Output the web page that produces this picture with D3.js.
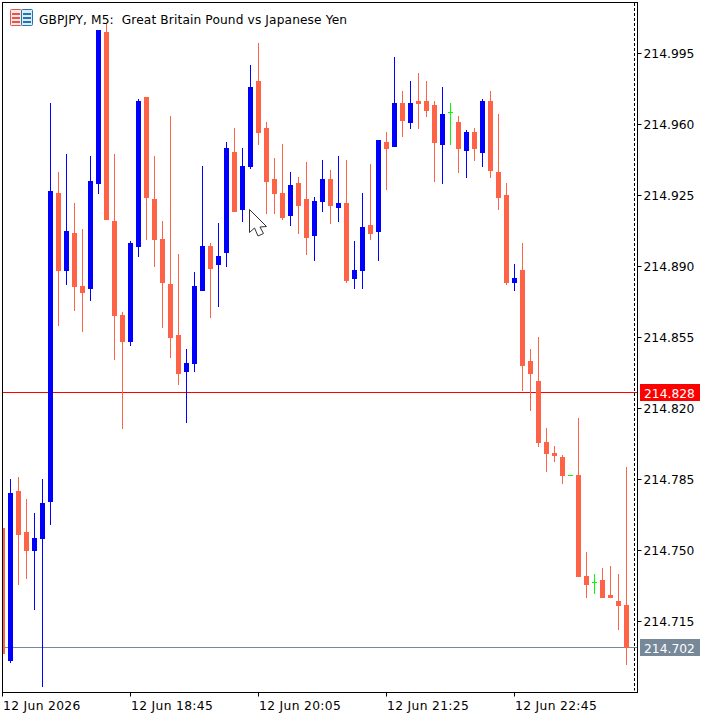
<!DOCTYPE html>
<html>
<head>
<meta charset="utf-8">
<script src="https://cdn.jsdelivr.net/npm/d3@7/dist/d3.min.js"></script>
<style>
  html, body { margin: 0; padding: 0; background: #fff; }
  svg { display: block; }
  text { font-family: "DejaVu Sans", sans-serif; fill: #000; }
</style>
</head>
<body>
<svg id="chart" width="715" height="719"></svg>
<script>
// GBPJPY M5 bars, oldest first
const opens = [
  214.7613,214.6957,214.7795,214.7593,214.7500,214.7559,214.7741,214.9265,214.8880,214.9067,
  214.8806,214.8791,214.9309,215.0058,214.9126,214.8663,214.8530,214.8998,214.9738,214.9235,
  214.9038,214.8816,214.8564,214.8382,214.8421,214.8781,214.9003,214.8910,214.8969,214.9466,
  214.9181,214.9393,214.9817,214.9585,214.9334,214.9265,214.9151,214.9314,214.9235,214.9053,
  214.9220,214.9334,214.9191,214.9215,214.8841,214.8880,214.9107,214.9072,214.9516,214.9491,
  214.9708,214.9610,214.9718,214.9718,214.9698,214.9501,214.9664,214.9615,214.9471,214.9565,
  214.9461,214.9718,214.9368,214.9255,214.8821,214.8885,214.8436,214.8338,214.8037,214.7983,
  214.7963,214.7874,214.7874,214.7376,214.7347,214.7357,214.7283,214.7253,214.7233
];
const highs = [
  214.7613,214.7854,214.7864,214.7756,214.7687,214.7854,214.9708,214.9368,214.9457,214.9215,
  214.9087,214.9447,215.0068,215.0103,214.9457,214.8678,214.9028,214.9728,214.9738,214.9447,
  214.9126,214.9644,214.8964,214.8495,214.8875,214.9398,214.9018,214.9117,214.9516,214.9585,
  214.9486,214.9896,215.0004,214.9615,214.9437,214.9506,214.9368,214.9344,214.9417,214.9245,
  214.9427,214.9378,214.9447,214.9427,214.9028,214.9265,214.9407,214.9526,214.9565,214.9935,
  214.9767,214.9817,214.9856,214.9817,214.9718,214.9787,214.9708,214.9644,214.9575,214.9585,
  214.9728,214.9767,214.9654,214.9314,214.8915,214.9018,214.8495,214.8555,214.8106,214.8017,
  214.7973,214.7874,214.8155,214.7495,214.7386,214.7416,214.7426,214.7386,214.7913
];
const lows = [
  214.6992,214.6947,214.7332,214.7362,214.7209,214.6829,214.7628,214.8609,214.8811,214.8683,
  214.8579,214.8732,214.9260,214.9131,214.8441,214.8101,214.8510,214.8949,214.9033,214.8900,
  214.8599,214.8451,214.8318,214.8131,214.8382,214.8781,214.8648,214.8702,214.8900,214.9171,
  214.9121,214.9383,214.9501,214.9161,214.9161,214.9131,214.9102,214.9062,214.8959,214.8929,
  214.9171,214.9112,214.9121,214.8821,214.8791,214.8791,214.9033,214.8929,214.9279,214.9491,
  214.9541,214.9580,214.9580,214.9639,214.9319,214.9309,214.9501,214.9363,214.9339,214.9422,
  214.9393,214.9339,214.9181,214.8811,214.8781,214.8288,214.8190,214.8012,214.7889,214.7938,
  214.7830,214.7874,214.7371,214.7268,214.7288,214.7268,214.7268,214.7110,214.6937
];
const closes = [
  214.6992,214.7786,214.7578,214.7500,214.7564,214.7736,214.9274,214.8880,214.9077,214.8801,
  214.8772,214.9324,215.0068,214.9131,214.8658,214.8530,214.9018,214.9718,214.9240,214.9033,
  214.8821,214.8550,214.8372,214.8426,214.8806,214.9003,214.8890,214.8954,214.9486,214.9171,
  214.9398,214.9787,214.9560,214.9319,214.9260,214.9141,214.9304,214.9200,214.9043,214.9225,
  214.9334,214.9200,214.9215,214.8831,214.8885,214.9097,214.9062,214.9526,214.9481,214.9708,
  214.9619,214.9708,214.9703,214.9669,214.9511,214.9654,214.9664,214.9481,214.9565,214.9481,
  214.9718,214.9373,214.9240,214.8821,214.8846,214.8412,214.8372,214.8032,214.7978,214.7968,
  214.7869,214.7874,214.7371,214.7332,214.7347,214.7268,214.7268,214.7228,214.702
];

const priceTicks = [214.995, 214.960, 214.925, 214.890, 214.855, 214.820, 214.785, 214.750, 214.715];
const timeTicks = [0, 16, 32, 48, 64];
const timeLabels = ["12 Jun 2026", "12 Jun 18:45", "12 Jun 20:05", "12 Jun 21:25", "12 Jun 22:45"];
const bidPrice = 214.702;
const markerPrice = 214.828;
const chartTitle = "GBPJPY, M5:  Great Britain Pound vs Japanese Yen";

const UP = "#0000ff", DOWN = "#ff6347", DOJI = "#00ff00";
const BID = "#778899", MARKER = "#ff0000";

const frame = { left: 2.5, top: 2.5, right: 637.5, bottom: 692.5, shift: 634.5 };

const svg = d3.select("#chart");

const x = d3.scaleLinear().domain([0, 78]).range([2.5, 626.5]);
const y = d3.scaleLinear().domain([214.995, 214.715]).range([54, 622]);
const py = v => Math.round(y(v));

svg.append("defs").append("clipPath").attr("id", "plot")
  .append("rect")
  .attr("x", frame.left).attr("y", frame.top)
  .attr("width", frame.right - frame.left).attr("height", frame.bottom - frame.top);

// Horizontal price levels sit underneath the candles
const levelRow = v => Math.floor(y(v) - 0.5) + 0.5;
const levels = svg.append("g");
[[markerPrice, MARKER], [bidPrice, BID]].forEach(([v, c]) => {
  levels.append("line")
    .attr("x1", frame.left).attr("x2", frame.right)
    .attr("y1", levelRow(v)).attr("y2", levelRow(v))
    .attr("stroke", c);
});

// Candles
const bars = d3.range(opens.length).map(i => ({
  i, o: opens[i], h: highs[i], l: lows[i], c: closes[i]
}));
const colour = d => d.c > d.o ? UP : d.c < d.o ? DOWN : DOJI;

const candle = svg.append("g").attr("clip-path", "url(#plot)")
  .selectAll("g").data(bars).join("g").attr("fill", colour);

candle.append("rect")
  .attr("x", d => x(d.i) - 0.5)
  .attr("width", 1)
  .attr("y", d => py(d.h))
  .attr("height", d => py(d.l) - py(d.h));

candle.append("rect")
  .attr("x", d => x(d.i) - 2.5)
  .attr("width", 5)
  .attr("y", d => py(Math.max(d.o, d.c)))
  .attr("height", d => Math.max(1, py(Math.min(d.o, d.c)) - py(Math.max(d.o, d.c))));

// Dashed chart-shift marker
svg.append("line")
  .attr("x1", frame.shift).attr("x2", frame.shift)
  .attr("y1", frame.top + 0.5).attr("y2", frame.bottom - 2)
  .attr("stroke", "#000").attr("stroke-dasharray", "3,2");

// Chart frame
svg.append("rect")
  .attr("x", frame.left).attr("y", frame.top)
  .attr("width", frame.right - frame.left).attr("height", frame.bottom - frame.top)
  .attr("fill", "none").attr("stroke", "#000");

// Price axis
const priceAxis = d3.axisRight(y)
  .tickValues(priceTicks)
  .tickFormat(d3.format(".3f"))
  .tickSize(4)
  .tickPadding(2)
  .offset(-0.5);
svg.append("g")
  .attr("transform", `translate(${frame.right},0)`)
  .call(priceAxis)
  .call(g => g.select(".domain").remove())
  .call(g => g.selectAll("text")
    .attr("font-family", null).attr("font-size", 12.3).attr("y", 0.5));

// Time axis
const timeAxis = d3.axisBottom(x)
  .tickValues(timeTicks)
  .tickFormat((d, i) => timeLabels[i])
  .tickSize(4)
  .offset(0);
svg.append("g")
  .attr("transform", `translate(0,${frame.bottom})`)
  .call(timeAxis)
  .call(g => g.select(".domain").remove())
  .call(g => g.selectAll("text")
    .attr("font-family", null).attr("font-size", 12.3)
    .attr("letter-spacing", "0.33px")
    .attr("text-anchor", "start").attr("x", 0.5).attr("dy", null).attr("y", 17.5));

// Price tags on the axis
[[markerPrice, MARKER], [bidPrice, BID]].forEach(([v, c]) => {
  const row = Math.floor(levelRow(v));
  svg.append("rect")
    .attr("x", 640).attr("y", row - 8).attr("width", 60).attr("height", 17)
    .attr("fill", c);
  svg.append("text")
    .attr("x", 644).attr("y", row + 6)
    .attr("font-size", 12.3).style("fill", "#fff")
    .text(d3.format(".3f")(v));
});

// Title and symbol icon
const icon = svg.append("g").attr("transform", "translate(10,9)");
icon.append("rect").attr("x", 0.5).attr("y", 0.5).attr("width", 11).attr("height", 16)
  .attr("rx", 1).attr("fill", "#fbe6e3").attr("stroke", "#e2574c");
icon.append("rect").attr("x", 11.5).attr("y", 0.5).attr("width", 11).attr("height", 16)
  .attr("rx", 1).attr("fill", "#dfecf6").attr("stroke", "#1f78b4");
[4, 8, 12].forEach(r => {
  icon.append("rect").attr("x", 2).attr("y", r).attr("width", 8).attr("height", 2).attr("fill", "#e2574c");
  icon.append("rect").attr("x", 13).attr("y", r).attr("width", 8).attr("height", 2).attr("fill", "#1f78b4");
});

svg.append("text")
  .attr("x", 39).attr("y", 24)
  .attr("font-size", 12.2)
  .attr("textLength", 308)
  .attr("lengthAdjust", "spacing")
  .style("white-space", "pre")
  .text(chartTitle);

// Mouse pointer
svg.append("path")
  .attr("d", "M249.5,209.5 L266.5,226.5 L260,227 L263.5,233.5 L258,236 L254.5,228 L249.5,232.5 Z")
  .attr("fill", "#fff").attr("stroke", "#333");
</script>
</body>
</html>
